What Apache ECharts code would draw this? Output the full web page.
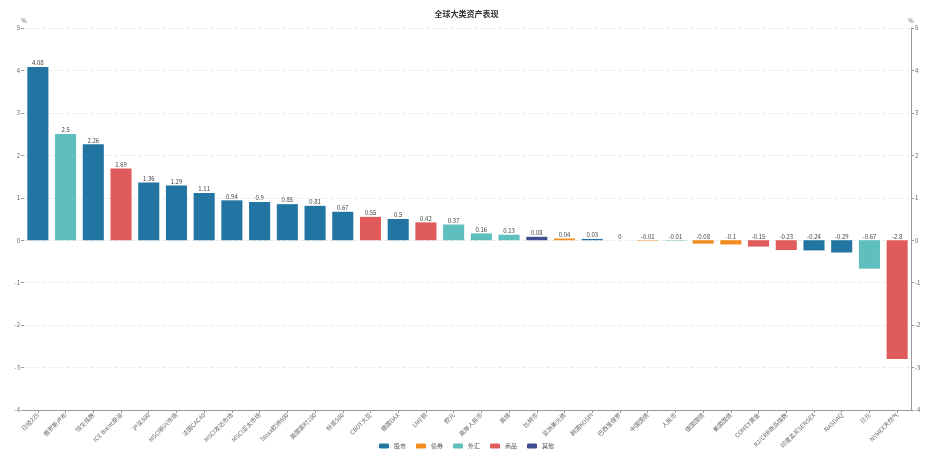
<!DOCTYPE html>
<html>
<head>
<meta charset="utf-8">
<script src="https://cdn.jsdelivr.net/npm/echarts@6/dist/echarts.min.js"></script>
<style>html,body{margin:0;padding:0;background:#fff;}#c{width:933px;height:457px;}</style>
</head>
<body>
<div id="c"></div>
<script>
var categories = ['日经225','俄罗斯卢布','恒生指数','ICE Brent原油','沪深300','MSCI新兴市场','法国CAC40','MSCI发达市场','MSCI亚太市场','Stoxx欧洲600','英国富时100','标普500','CBOT大豆','德国DAX','LME铜','欧元','离岸人民币','英镑','比特币','亚洲美元债','韩国KOSPI','巴西圣保罗','中国国债','人民币','德国国债','美国国债','COMEX黄金','RJ/CRB商品指数','印度孟买SENSEX','NASDAQ','日元','NYMEX天然气'];
var values = [4.08,2.5,2.26,1.69,1.36,1.29,1.11,0.94,0.9,0.85,0.81,0.67,0.55,0.5,0.42,0.37,0.16,0.13,0.08,0.04,0.03,0,-0.01,-0.01,-0.08,-0.1,-0.15,-0.23,-0.24,-0.29,-0.67,-2.8];
var groups = ['股市','外汇','股市','商品','股市','股市','股市','股市','股市','股市','股市','股市','商品','股市','商品','外汇','外汇','外汇','其他','债券','股市','股市','债券','外汇','债券','债券','商品','商品','股市','股市','外汇','商品'];
var groupNames = ['股市','债券','外汇','商品','其他'];
var yTicks = [-4,-3,-2,-1,0,1,2,3,4,5];

var colors = ['#2275a2','#f28b1e','#5fbfbf','#e05b5c','#3e4e8e'];
var chart = echarts.init(document.getElementById('c'));
var font = 'Noto Sans CJK SC';
var series = groupNames.map(function(g){
  return {
    name: g, type: 'bar', stack: 'all', barWidth: '76%',
    data: values.map(function(v,i){ return groups[i]===g ? v : null; }),
    label: {show: true, position: 'top', distance: 1, fontSize: 6, color: '#444', fontFamily: font}
  };
});
var yAxisCommon = {
  type: 'value', min: yTicks[0], max: yTicks[yTicks.length-1], interval: 1,
  name: '%', nameGap: 4, nameTextStyle: {fontSize: 6, color: '#666', fontFamily: font},
  axisLabel: {fontSize: 6, color: '#666', fontFamily: font, margin: 4},
  axisTick: {show: true, length: 3, lineStyle: {color: '#999'}}
};
chart.setOption({
  color: colors,
  textStyle: {fontFamily: font},
  title: {text: '全球大类资产表现', left: 'center', top: 5, textStyle: {fontSize: 8, fontWeight: 'bold', color: '#333', fontFamily: font}},
  legend: {bottom: 3, left: 'center', itemWidth: 10, itemHeight: 5, itemGap: 10, textStyle: {fontSize: 6, color: '#555', fontFamily: font}, data: groupNames},
  grid: {left: 24, right: 22, top: 28, bottom: 47, containLabel: false},
  xAxis: {
    type: 'category', data: categories,
    axisLine: {onZero: false, lineStyle: {color: '#999'}},
    axisTick: {show: true, length: 3, alignWithLabel: true},
    axisLabel: {rotate: 45, interval: 0, fontSize: 6, color: '#666', fontFamily: font, margin: 4}
  },
  yAxis: [
    Object.assign({}, yAxisCommon, {position: 'left', axisLine: {show: false},
      splitLine: {show: true, lineStyle: {type: 'dashed', color: '#ebebeb'}}}),
    Object.assign({}, yAxisCommon, {position: 'right', axisLine: {show: true, lineStyle: {color: '#999'}},
      splitLine: {show: false}})
  ],
  series: series
});
</script>
</body>
</html>
